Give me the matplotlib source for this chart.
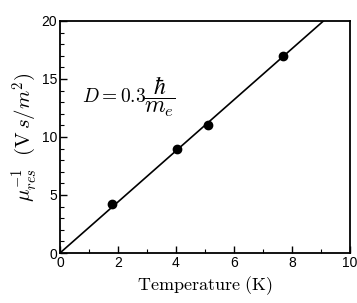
import matplotlib.pyplot as plt
from matplotlib.ticker import MultipleLocator

# measured points
temp = [1.8, 4.05, 5.1, 7.7]
inv_mob = [4.2, 9.0, 11.0, 17.0]

# linear fit through the origin
fit_x = [0.0, 9.1]
slope = 2.2

plt.rcParams['mathtext.fontset'] = 'cm'
plt.rcParams['font.family'] = ['Liberation Sans', 'DejaVu Sans']

fig = plt.figure(figsize=(3.57, 3.03), dpi=100)
ax = fig.add_axes([0.168, 0.165, 0.812, 0.766])

ax.plot(fit_x, [slope * x for x in fit_x], color='black', lw=1.2)
ax.plot(temp, inv_mob, 'o', color='black', ms=6)

ax.set_xlim(0, 10)
ax.set_ylim(0, 20)
ax.xaxis.set_major_locator(MultipleLocator(2))
ax.xaxis.set_minor_locator(MultipleLocator(1))
ax.yaxis.set_major_locator(MultipleLocator(5))
ax.yaxis.set_minor_locator(MultipleLocator(1))
ax.tick_params(which='both', direction='in', labelsize=10, pad=2)
ax.tick_params(which='major', length=5, width=1)
ax.tick_params(which='minor', length=3, width=0.8)
for s in ax.spines.values():
    s.set_linewidth(1.3)

# formula label
ax.text(0.75, 13.4, r'$D = 0.3$', fontsize=14, va='center')
ax.text(2.9, 13.5, r'$\dfrac{\hbar}{m_e}$', fontsize=17, va='center')

ax.set_xlabel(r'$\mathrm{Temperature\ (K)}$', fontsize=13, labelpad=3)
ax.set_ylabel(r'$\mu_{res}^{-1}\ \ (\mathrm{V}\,s/m^2)$', fontsize=15, labelpad=2)

fig.savefig('out.png', dpi=100)
